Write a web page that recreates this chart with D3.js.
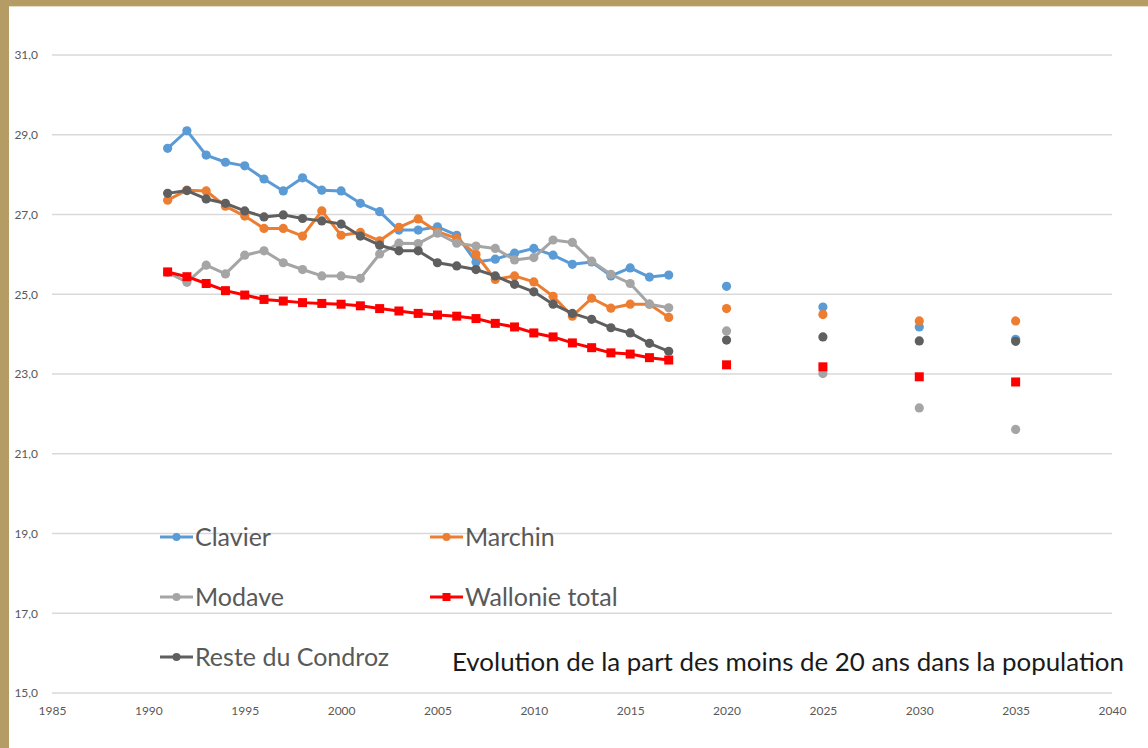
<!doctype html>
<html lang="fr">
<head>
  <meta charset="utf-8">
  <title>Evolution de la part des moins de 20 ans</title>
  <script src="https://d3js.org/d3.v7.min.js"></script>
  <style>
    body { margin: 0; background: #fff; }
    svg { display: block; }
  </style>
</head>
<body>
  <svg width="1148" height="748"></svg>
  <script>
    var years = [1991, 1992, 1993, 1994, 1995, 1996, 1997, 1998, 1999, 2000,
                 2001, 2002, 2003, 2004, 2005, 2006, 2007, 2008, 2009, 2010,
                 2011, 2012, 2013, 2014, 2015, 2016, 2017];
    var projYears = [2020, 2025, 2030, 2035];

    var clavier = [28.66, 29.10, 28.49, 28.31, 28.22, 27.89, 27.59, 27.92, 27.61, 27.59,
                   27.28, 27.07, 26.61, 26.61, 26.69, 26.48, 25.81, 25.88, 26.03, 26.15,
                   25.98, 25.75, 25.81, 25.46, 25.66, 25.43, 25.48];
    var marchin = [27.36, 27.61, 27.59, 27.21, 26.96, 26.65, 26.65, 26.46, 27.09, 26.48,
                   26.55, 26.34, 26.68, 26.89, 26.57, 26.40, 26.00, 25.37, 25.46, 25.31,
                   24.95, 24.45, 24.90, 24.65, 24.75, 24.75, 24.42];
    var modave = [25.55, 25.30, 25.73, 25.51, 25.98, 26.09, 25.79, 25.62, 25.46, 25.46,
                  25.40, 26.01, 26.28, 26.27, 26.53, 26.28, 26.21, 26.15, 25.86, 25.92,
                  26.36, 26.30, 25.83, 25.50, 25.27, 24.75, 24.66];
    var wallonie = [25.56, 25.44, 25.27, 25.09, 24.98, 24.87, 24.83, 24.79, 24.77, 24.75,
                    24.71, 24.64, 24.58, 24.52, 24.48, 24.45, 24.39, 24.27, 24.18, 24.03,
                    23.93, 23.78, 23.66, 23.53, 23.50, 23.41, 23.35];
    var reste = [27.53, 27.60, 27.39, 27.28, 27.09, 26.94, 26.99, 26.90, 26.84, 26.76,
                 26.46, 26.23, 26.09, 26.09, 25.79, 25.71, 25.62, 25.46, 25.25, 25.06,
                 24.75, 24.52, 24.37, 24.16, 24.03, 23.77, 23.57];

    var clavierProj = [25.20, 24.68, 24.18, 23.87];
    var marchinProj = [24.64, 24.49, 24.33, 24.33];
    var modaveProj = [24.08, 23.01, 22.15, 21.61];
    var wallonieProj = [23.23, 23.18, 22.93, 22.80];
    var resteProj = [23.85, 23.93, 23.83, 23.82];

    var xTicks = [1985, 1990, 1995, 2000, 2005, 2010, 2015, 2020, 2025, 2030, 2035, 2040];
    var yTicks = [15, 17, 19, 21, 23, 25, 27, 29, 31];
    var title = "Evolution de la part des moins de 20 ans dans la population";

    var series = [
      { name: "Clavier", values: clavier, proj: clavierProj, color: "#5b9bd5", square: false },
      { name: "Marchin", values: marchin, proj: marchinProj, color: "#ed7d31", square: false },
      { name: "Modave", values: modave, proj: modaveProj, color: "#a5a5a5", square: false },
      { name: "Wallonie total", values: wallonie, proj: wallonieProj, color: "#ff0000", square: true },
      { name: "Reste du Condroz", values: reste, proj: resteProj, color: "#5f5f5f", square: false }
    ];

    var svg = d3.select("svg");

    var x = d3.scaleLinear().domain([1985, 2040]).range([52, 1112]);
    var y = d3.scaleLinear().domain([15, 31]).range([693, 55]);

    // frame
    svg.append("rect").attr("x", 0).attr("y", 0).attr("width", 1148).attr("height", 6).attr("fill", "#b49c64");
    svg.append("rect").attr("x", 0).attr("y", 6).attr("width", 1148).attr("height", 1).attr("fill", "#e6dcc6");
    svg.append("rect").attr("x", 0).attr("y", 0).attr("width", 9).attr("height", 748).attr("fill", "#b49c64");

    // gridlines
    svg.append("g")
      .selectAll("line")
      .data(yTicks)
      .enter().append("line")
        .attr("x1", x(1985)).attr("x2", x(2040))
        .attr("y1", function(d) { return y(d); })
        .attr("y2", function(d) { return y(d); })
        .attr("stroke", "#d9d9d9")
        .attr("stroke-width", 1.3);

    var fmt = function(d) { return d3.format(".1f")(d).replace(".", ","); };

    var yAxis = svg.append("g")
        .attr("transform", "translate(38,0)")
        .call(d3.axisLeft(y).tickValues(yTicks).tickFormat(fmt).tickSize(0).tickPadding(0));
    yAxis.select(".domain").remove();
    yAxis.selectAll("text")
        .attr("font-family", "Lato, sans-serif")
        .attr("font-size", 12)
        .attr("fill", "#595959");

    var xAxis = svg.append("g")
        .attr("transform", "translate(0," + 706 + ")")
        .call(d3.axisBottom(x).tickValues(xTicks).tickFormat(d3.format("d")).tickSize(0).tickPadding(0));
    xAxis.select(".domain").remove();
    xAxis.selectAll("text")
        .attr("font-family", "Lato, sans-serif")
        .attr("font-size", 12)
        .attr("fill", "#595959");

    var line = d3.line()
        .x(function(d) { return x(d[0]); })
        .y(function(d) { return y(d[1]); });

    function drawMarkers(g, pts, s) {
      if (s.square) {
        g.selectAll("rect.m")
          .data(pts)
          .enter().append("rect")
            .attr("class", "m")
            .attr("x", function(d) { return x(d[0]) - 4.5; })
            .attr("y", function(d) { return y(d[1]) - 4.5; })
            .attr("width", 9).attr("height", 9)
            .attr("fill", s.color);
      } else {
        g.selectAll("circle.m")
          .data(pts)
          .enter().append("circle")
            .attr("class", "m")
            .attr("cx", function(d) { return x(d[0]); })
            .attr("cy", function(d) { return y(d[1]); })
            .attr("r", 4.6)
            .attr("fill", s.color);
      }
    }

    // draw order: back to front like the source
    series.forEach(function(s) {
      var pts = years.map(function(yr, i) { return [yr, s.values[i]]; });
      var g = svg.append("g");
      g.append("path")
        .attr("d", line(pts))
        .attr("fill", "none")
        .attr("stroke", s.color)
        .attr("stroke-width", 3)
        .attr("stroke-linejoin", "round");
      drawMarkers(g, pts, s);
    });

    series.forEach(function(s) {
      var pts = projYears.map(function(yr, i) { return [yr, s.proj[i]]; });
      drawMarkers(svg.append("g"), pts, s);
    });

    // legend
    var legendPos = [[160, 537], [430, 537], [160, 597], [430, 597], [160, 657]];
    series.forEach(function(s, i) {
      var p = legendPos[i];
      var g = svg.append("g").attr("transform", "translate(" + p[0] + "," + p[1] + ")");
      g.append("line")
        .attr("x1", 0).attr("x2", 33).attr("y1", 0).attr("y2", 0)
        .attr("stroke", s.color).attr("stroke-width", 3);
      if (s.square) {
        g.append("rect").attr("x", 12.5).attr("y", -4).attr("width", 8).attr("height", 8).attr("fill", s.color);
      } else {
        g.append("circle").attr("cx", 16.5).attr("cy", 0).attr("r", 4).attr("fill", s.color);
      }
      g.append("text")
        .attr("x", 35).attr("y", 9)
        .attr("font-family", "Lato, sans-serif")
        .attr("font-size", 25)
        .attr("fill", "#595959")
        .text(s.name);
    });

    svg.append("text")
      .attr("x", 452).attr("y", 671)
      .attr("font-family", "Lato, sans-serif")
      .attr("font-size", 25)
      .attr("fill", "#1a1a1a")
      .attr("textLength", 672)
      .attr("lengthAdjust", "spacingAndGlyphs")
      .text(title);
  </script>
</body>
</html>
